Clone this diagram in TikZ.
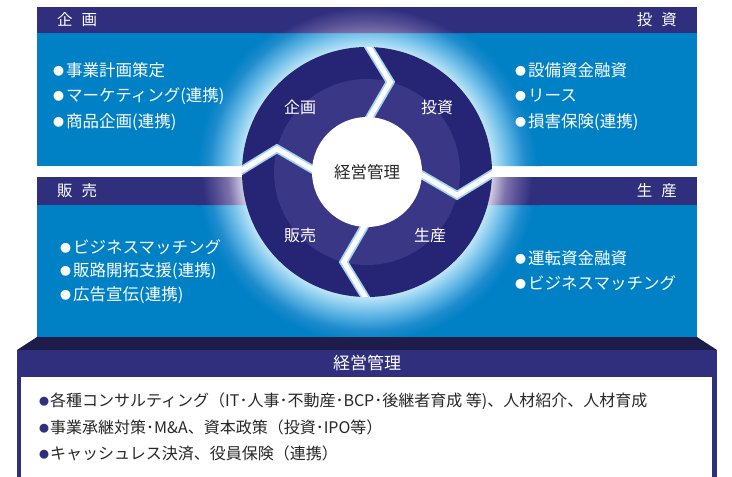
\documentclass[tikz,border=0pt]{standalone}
\usepackage{fontspec}
\setmainfont{Noto Sans CJK JP}
\usetikzlibrary{calc}
\definecolor{hdrnavy}{RGB}{48,47,126}
\definecolor{panelblue}{RGB}{0,129,198}
\definecolor{basedark}{RGB}{29,28,74}
\definecolor{ringout}{RGB}{38,36,116}
\definecolor{ringin}{RGB}{58,55,135}
\definecolor{sepblue}{RGB}{165,212,240}
\definecolor{txtdark}{RGB}{40,40,40}
\definecolor{gA}{RGB}{190,230,247}
\definecolor{gB}{RGB}{110,190,232}
\definecolor{gC}{RGB}{30,140,205}
\definecolor{lA}{RGB}{210,205,228}
\definecolor{lB}{RGB}{125,115,170}
\definecolor{lC}{RGB}{85,78,148}
\pgfdeclareradialshading{blueglow}{\pgfpoint{0bp}{0bp}}{color(0bp)=(gA); color(17.8bp)=(gA); color(20bp)=(gB); color(22.6bp)=(gC); color(24.3bp)=(panelblue); color(50bp)=(panelblue)}
\pgfdeclareradialshading{lavglow}{\pgfpoint{0bp}{0bp}}{color(0bp)=(lA); color(17.8bp)=(lA); color(19.9bp)=(lB); color(21.7bp)=(lC); color(23.6bp)=(hdrnavy); color(50bp)=(hdrnavy)}
\newcommand\wbul{\raisebox{1.2pt}{\fontsize{11}{11}\selectfont ●}\hspace{2pt}}
\newcommand\nbul{\textcolor{hdrnavy}{\raisebox{1pt}{\fontsize{10}{10}\selectfont ●}}\hspace{1pt}}
\begin{document}
\begin{tikzpicture}[x=1pt,y=-1pt,
  hdrlab/.style={font=\fontsize{15.5}{16}\selectfont, text=white, inner sep=0pt},
  itemw/.style={font=\fontsize{16.5}{17}\selectfont, text=white, anchor=west, inner sep=0pt},
  itemd/.style={font=\fontsize{16}{17}\selectfont, text=txtdark, anchor=west, inner sep=0pt},
  seglab/.style={font=\fontsize{16}{16}\selectfont, text=white, inner sep=0pt},
  sepout/.style={sepblue, line width=8.5pt, line join=miter},
  sepin/.style={white, line width=5pt, line join=miter}
]
\useasboundingbox (0,0) rectangle (732,477);
\fill[white] (0,0) rectangle (732,477);
% header bars and panels
\fill[hdrnavy] (37,7) rectangle (697,33);
\fill[panelblue] (37,33) rectangle (697,166);
\fill[hdrnavy] (37,177) rectangle (697,205);
\fill[panelblue] (37,205) rectangle (697,337);
% glow on panels
\begin{scope}
  \clip (37,33) rectangle (697,166) (37,205) rectangle (697,337);
  \shade[shading=blueglow] (367,172) circle (175pt);
\end{scope}
\begin{scope}
  \clip (37,7) rectangle (697,33) (37,177) rectangle (697,205);
  \shade[shading=lavglow] (367,172) circle (175pt);
\end{scope}
% base
\fill[basedark] (37,337) -- (697,337) -- (717,350) -- (17,350) -- cycle;
\fill[hdrnavy] (17,350) rectangle (717,480);
\fill[white] (21,377) rectangle (712,480);
% circle
\begin{scope}[shift={(367,172)}]
  \fill[ringout] (0,0) circle (125pt);
  \fill[ringin] (0,0) circle (93pt);
  \begin{scope}
    \clip (0,0) circle (125pt);
    \foreach \a in {90,0,-90,180} {
      \draw[sepout] (\a:50pt) -- (\a-14.5:93pt) -- (\a:128pt);
    }
    \foreach \a in {90,0,-90,180} {
      \draw[sepin] (\a:50pt) -- (\a-14.5:93pt) -- (\a:128pt);
    }
  \end{scope}
  \fill[white] (0,0) circle (55pt);
\end{scope}
% labels
\node[hdrlab, anchor=west] (hk) at (57,20) {企\hspace{9pt}画};
\node[hdrlab, anchor=east] (ht) at (677,20) {投\hspace{9pt}資};
\node[hdrlab, anchor=west] (hh) at (57,191) {販\hspace{9pt}売};
\node[hdrlab, anchor=east] (hs) at (677,191) {生\hspace{9pt}産};
\node[seglab] (sk) at (300,107) {企画};
\node[seglab] (st) at (437,107) {投資};
\node[seglab] (sh) at (300,235) {販売};
\node[seglab] (ss) at (430,235) {生産};
\node[font=\fontsize{16.5}{17}\selectfont, text=txtdark, inner sep=0pt] (cm) at (367,172) {経営管理};
\node[font=\fontsize{17}{17}\selectfont, text=white, inner sep=0pt] (bm) at (367,363) {経営管理};
% top-left items
\node[itemw] (k1) at (53,70) {\wbul 事業計画策定};
\node[itemw] (k2) at (53,96) {\wbul マーケティング(連携)};
\node[itemw] (k3) at (53,122) {\wbul 商品企画(連携)};
% top-right items
\node[itemw] (t1) at (515,70) {\wbul 設備資金融資};
\node[itemw] (t2) at (515,96) {\wbul リース};
\node[itemw] (t3) at (515,122) {\wbul 損害保険(連携)};
% bottom-left items
\node[itemw] (h1) at (60,247) {\wbul ビジネスマッチング};
\node[itemw] (h2) at (60,271) {\wbul 販路開拓支援(連携)};
\node[itemw] (h3) at (60,295) {\wbul 広告宣伝(連携)};
% bottom-right items
\node[itemw] (s1) at (515,258) {\wbul 運転資金融資};
\node[itemw] (s2) at (515,283) {\wbul ビジネスマッチング};
% management items
\node[itemd] (m1) at (39,401) {\nbul 各種コンサルティング（IT･人事･不動産･BCP･後継者育成 等)、人材紹介、人材育成};
\node[itemd] (m2) at (39,427) {\nbul 事業承継対策･M\&A、資本政策（投資･IPO等）};
\node[itemd] (m3) at (39,453) {\nbul キャッシュレス決済、役員保険（連携）};
\end{tikzpicture}
\end{document}
